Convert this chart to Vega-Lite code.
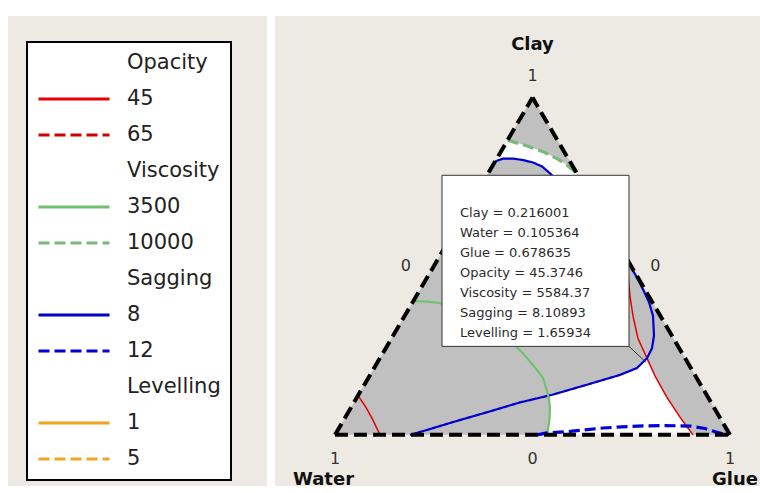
{
  "$schema": "https://vega.github.io/schema/vega-lite/v6.json",
  "width": 760,
  "height": 493,
  "autosize": {"type": "fit", "contains": "padding"},
  "padding": {"left": 8, "top": 12, "right": 0, "bottom": 3},
  "background": "white",
  "config": {
    "view": {"fill": "#EDEAE3", "stroke": null},
    "text": {"font": "DejaVu Sans"},
    "legend": {
      "orient": "none", "legendX": 19, "legendY": 26,
      "symbolType": "stroke", "symbolSize": 5041, "symbolStrokeWidth": 3,
      "labelFont": "DejaVu Sans", "labelFontSize": 21, "labelColor": "#222222",
      "labelOffset": 16, "labelLimit": 300, "padding": 10, "rowPadding": 14, "clipHeight": 22,
      "fillColor": "white", "strokeColor": "black"
    }
  },
  "datasets": {
    "contours": [
      {"key": "45", "seg": "r1", "i": 0, "x": 0.0582, "y": 0.1164},
      {"key": "45", "seg": "r1", "i": 1, "x": 0.0785, "y": 0.0816},
      {"key": "45", "seg": "r1", "i": 2, "x": 0.0962, "y": 0.0437},
      {"key": "45", "seg": "r1", "i": 3, "x": 0.1139, "y": 0},
      {"key": "45", "seg": "r2", "i": 0, "x": 0.7400, "y": 0.5200},
      {"key": "45", "seg": "r2", "i": 1, "x": 0.7418, "y": 0.4752},
      {"key": "45", "seg": "r2", "i": 2, "x": 0.7468, "y": 0.4111},
      {"key": "45", "seg": "r2", "i": 3, "x": 0.7544, "y": 0.3528},
      {"key": "45", "seg": "r2", "i": 4, "x": 0.7671, "y": 0.2857},
      {"key": "45", "seg": "r2", "i": 5, "x": 0.7899, "y": 0.2274},
      {"key": "45", "seg": "r2", "i": 6, "x": 0.8101, "y": 0.1749},
      {"key": "45", "seg": "r2", "i": 7, "x": 0.8405, "y": 0.1108},
      {"key": "45", "seg": "r2", "i": 8, "x": 0.8734, "y": 0.0525},
      {"key": "45", "seg": "r2", "i": 9, "x": 0.9063, "y": 0},
      {"key": "8", "seg": "b1", "i": 0, "x": 0.4051, "y": 0.8105},
      {"key": "8", "seg": "b1", "i": 1, "x": 0.4253, "y": 0.8192},
      {"key": "8", "seg": "b1", "i": 2, "x": 0.4506, "y": 0.8192},
      {"key": "8", "seg": "b1", "i": 3, "x": 0.4759, "y": 0.8149},
      {"key": "8", "seg": "b1", "i": 4, "x": 0.5013, "y": 0.8076},
      {"key": "8", "seg": "b1", "i": 5, "x": 0.5241, "y": 0.7959},
      {"key": "8", "seg": "b1", "i": 6, "x": 0.5443, "y": 0.7755},
      {"key": "8", "seg": "b1", "i": 7, "x": 0.5696, "y": 0.7464},
      {"key": "8", "seg": "b1", "i": 8, "x": 0.5949, "y": 0.7085},
      {"key": "8", "seg": "b1", "i": 9, "x": 0.6456, "y": 0.6501},
      {"key": "8", "seg": "b1", "i": 10, "x": 0.6962, "y": 0.5831},
      {"key": "8", "seg": "b1", "i": 11, "x": 0.7316, "y": 0.5335},
      {"key": "8", "seg": "b1", "i": 12, "x": 0.7468, "y": 0.5015},
      {"key": "8", "seg": "b1", "i": 13, "x": 0.7646, "y": 0.4665},
      {"key": "8", "seg": "b1", "i": 14, "x": 0.7797, "y": 0.4315},
      {"key": "8", "seg": "b1", "i": 15, "x": 0.7949, "y": 0.3936},
      {"key": "8", "seg": "b1", "i": 16, "x": 0.8051, "y": 0.3528},
      {"key": "8", "seg": "b1", "i": 17, "x": 0.8076, "y": 0.2945},
      {"key": "8", "seg": "b1", "i": 18, "x": 0.8025, "y": 0.2566},
      {"key": "8", "seg": "b1", "i": 19, "x": 0.7899, "y": 0.2274},
      {"key": "8", "seg": "b1", "i": 20, "x": 0.7646, "y": 0.1983},
      {"key": "8", "seg": "b1", "i": 21, "x": 0.7215, "y": 0.1778},
      {"key": "8", "seg": "b1", "i": 22, "x": 0.6380, "y": 0.1487},
      {"key": "8", "seg": "b1", "i": 23, "x": 0.5519, "y": 0.1195},
      {"key": "8", "seg": "b1", "i": 24, "x": 0.4684, "y": 0.0962},
      {"key": "8", "seg": "b1", "i": 25, "x": 0.3848, "y": 0.0671},
      {"key": "8", "seg": "b1", "i": 26, "x": 0.2987, "y": 0.0379},
      {"key": "8", "seg": "b1", "i": 27, "x": 0.2329, "y": 0.0146},
      {"key": "8", "seg": "b1", "i": 28, "x": 0.1899, "y": 0},
      {"key": "3500", "seg": "g1", "i": 0, "x": 0.1983, "y": 0.3965},
      {"key": "3500", "seg": "g1", "i": 1, "x": 0.2354, "y": 0.3950},
      {"key": "3500", "seg": "g1", "i": 2, "x": 0.2658, "y": 0.3907},
      {"key": "3500", "seg": "g1", "i": 3, "x": 0.3291, "y": 0.3673},
      {"key": "3500", "seg": "g1", "i": 4, "x": 0.3924, "y": 0.3294},
      {"key": "3500", "seg": "g1", "i": 5, "x": 0.4430, "y": 0.2857},
      {"key": "3500", "seg": "g1", "i": 6, "x": 0.4608, "y": 0.2595},
      {"key": "3500", "seg": "g1", "i": 7, "x": 0.4759, "y": 0.2420},
      {"key": "3500", "seg": "g1", "i": 8, "x": 0.5013, "y": 0.2070},
      {"key": "3500", "seg": "g1", "i": 9, "x": 0.5266, "y": 0.1691},
      {"key": "3500", "seg": "g1", "i": 10, "x": 0.5392, "y": 0.1195},
      {"key": "3500", "seg": "g1", "i": 11, "x": 0.5443, "y": 0.0816},
      {"key": "3500", "seg": "g1", "i": 12, "x": 0.5430, "y": 0.0437},
      {"key": "3500", "seg": "g1", "i": 13, "x": 0.5367, "y": 0},
      {"key": "10000", "seg": "g2", "i": 0, "x": 0.4373, "y": 0.8746},
      {"key": "10000", "seg": "g2", "i": 1, "x": 0.4506, "y": 0.8688},
      {"key": "10000", "seg": "g2", "i": 2, "x": 0.4886, "y": 0.8557},
      {"key": "10000", "seg": "g2", "i": 3, "x": 0.5266, "y": 0.8397},
      {"key": "10000", "seg": "g2", "i": 4, "x": 0.5620, "y": 0.8192},
      {"key": "10000", "seg": "g2", "i": 5, "x": 0.5873, "y": 0.8003},
      {"key": "10000", "seg": "g2", "i": 6, "x": 0.6122, "y": 0.7755},
      {"key": "12", "seg": "b2", "i": 0, "x": 0.5114, "y": 0},
      {"key": "12", "seg": "b2", "i": 1, "x": 0.5367, "y": 0.0058},
      {"key": "12", "seg": "b2", "i": 2, "x": 0.5949, "y": 0.0102},
      {"key": "12", "seg": "b2", "i": 3, "x": 0.6785, "y": 0.0204},
      {"key": "12", "seg": "b2", "i": 4, "x": 0.7646, "y": 0.0262},
      {"key": "12", "seg": "b2", "i": 5, "x": 0.8354, "y": 0.0277},
      {"key": "12", "seg": "b2", "i": 6, "x": 0.8987, "y": 0.0262},
      {"key": "12", "seg": "b2", "i": 7, "x": 0.9367, "y": 0.0190},
      {"key": "12", "seg": "b2", "i": 8, "x": 0.9646, "y": 0.0087},
      {"key": "12", "seg": "b2", "i": 9, "x": 0.9899, "y": 0}
    ],
    "whiteTop": [
      {"x": 0.4051, "top": 0.8105, "bot": 0.8105},
      {"x": 0.4228, "top": 0.8456, "bot": 0.8178},
      {"x": 0.4373, "top": 0.8746, "bot": 0.8192},
      {"x": 0.4506, "top": 0.8688, "bot": 0.8192},
      {"x": 0.4886, "top": 0.8557, "bot": 0.8111},
      {"x": 0.5266, "top": 0.8397, "bot": 0.7945},
      {"x": 0.5620, "top": 0.8192, "bot": 0.7551},
      {"x": 0.5873, "top": 0.8003, "bot": 0.7000},
      {"x": 0.6122, "top": 0.7755, "bot": 0.7000}
    ],
    "whiteBottom": [
      {"x": 0.5367, "top": 0},
      {"x": 0.5418, "top": 0.0408},
      {"x": 0.5443, "top": 0.0816},
      {"x": 0.5451, "top": 0.1160},
      {"x": 0.5519, "top": 0.1195},
      {"x": 0.5949, "top": 0.1341},
      {"x": 0.6380, "top": 0.1487},
      {"x": 0.6785, "top": 0.1627},
      {"x": 0.7215, "top": 0.1778},
      {"x": 0.7646, "top": 0.1983},
      {"x": 0.7886, "top": 0.2230},
      {"x": 0.8101, "top": 0.1749},
      {"x": 0.8405, "top": 0.1108},
      {"x": 0.8734, "top": 0.0525},
      {"x": 0.9063, "top": 0}
    ],
    "triangle": [
      {"x": 0, "y": 0},
      {"x": 0.5, "y": 1},
      {"x": 1, "y": 0}
    ],
    "edges": [
      {"x": 0, "y": 0, "x2": 0.5, "y2": 1},
      {"x": 1, "y": 0, "x2": 0.5, "y2": 1},
      {"x": 0, "y": 0, "x2": 1, "y2": 0}
    ],
    "point": [
      {"x": 0.7866355, "clay": 0.216001, "water": 0.105364, "glue": 0.678635, "opacity": 45.3746, "viscosity": 5584.37, "sagging": 8.10893, "levelling": 1.65934}
    ]
  },
  "layer": [
    {
      "data": {"name": "triangle"},
      "mark": {"type": "area", "fill": "#C0C0C0", "opacity": 1},
      "encoding": {
        "x": {"field": "x", "type": "quantitative", "scale": {"domain": [-0.827848, 1.075949], "nice": false, "zero": false}, "axis": null},
        "y": {"field": "y", "type": "quantitative", "scale": {"domain": [-0.151603, 1.241983], "nice": false, "zero": false}, "axis": null},
        "y2": {"datum": 0}
      }
    },
    {
      "data": {"name": "point"},
      "mark": {"type": "rule", "color": "white", "strokeWidth": 8},
      "encoding": {"x": {"datum": -0.16203, "type": "quantitative"}}
    },
    {
      "data": {"name": "whiteTop"},
      "mark": {"type": "area", "fill": "white", "opacity": 1},
      "encoding": {
        "x": {"field": "x", "type": "quantitative"},
        "y": {"field": "top", "type": "quantitative"},
        "y2": {"field": "bot"}
      }
    },
    {
      "data": {"name": "whiteBottom"},
      "mark": {"type": "area", "fill": "white", "opacity": 1},
      "encoding": {
        "x": {"field": "x", "type": "quantitative"},
        "y": {"field": "top", "type": "quantitative"},
        "y2": {"datum": 0}
      }
    },
    {
      "data": {"name": "contours"},
      "transform": [{"filter": {"field": "key", "oneOf": ["45"]}}],
      "mark": {"type": "line", "strokeWidth": 1.5, "strokeCap": "butt", "strokeJoin": "round"},
      "encoding": {
        "x": {"field": "x", "type": "quantitative"},
        "y": {"field": "y", "type": "quantitative"},
        "detail": {"field": "seg"},
        "order": {"field": "i", "type": "quantitative"},
        "stroke": {
          "field": "key", "type": "nominal", "title": null,
          "scale": {
            "domain": ["Opacity", "45", "65", "Viscosity", "3500", "10000", "Sagging", "8", "12", "Levelling", "1", "5"],
            "range": ["transparent", "#E60000", "#D40000", "transparent", "#70C070", "#78BB78", "transparent", "#0000CC", "#0000D8", "transparent", "#F2A21E", "#F0A52A"]
          },
          "legend": {"encode": {"legend": {"update": {"strokeWidth": {"value": 2}}}}}
        },
        "strokeDash": {
          "field": "key", "type": "nominal", "title": null,
          "scale": {
            "domain": ["Opacity", "45", "65", "Viscosity", "3500", "10000", "Sagging", "8", "12", "Levelling", "1", "5"],
            "range": [[1, 0], [1, 0], [11, 5], [1, 0], [1, 0], [11, 5], [1, 0], [1, 0], [11, 5], [1, 0], [1, 0], [11, 5]]
          }
        }
      }
    },
    {
      "data": {"name": "contours"},
      "transform": [{"filter": {"field": "key", "oneOf": ["3500", "8", "1"]}}],
      "mark": {"type": "line", "strokeWidth": 2.2, "strokeCap": "butt", "strokeJoin": "round"},
      "encoding": {
        "x": {"field": "x", "type": "quantitative"},
        "y": {"field": "y", "type": "quantitative"},
        "detail": {"field": "seg"},
        "order": {"field": "i", "type": "quantitative"},
        "stroke": {"field": "key", "type": "nominal", "title": null},
        "strokeDash": {"field": "key", "type": "nominal", "title": null}
      }
    },
    {
      "data": {"name": "contours"},
      "transform": [{"filter": {"field": "key", "oneOf": ["65", "10000", "12", "5"]}}],
      "mark": {"type": "line", "strokeWidth": 3.2, "strokeCap": "butt", "strokeJoin": "round"},
      "encoding": {
        "x": {"field": "x", "type": "quantitative"},
        "y": {"field": "y", "type": "quantitative"},
        "detail": {"field": "seg"},
        "order": {"field": "i", "type": "quantitative"},
        "stroke": {"field": "key", "type": "nominal", "title": null},
        "strokeDash": {"field": "key", "type": "nominal", "title": null}
      }
    },
    {
      "data": {"name": "edges"},
      "mark": {"type": "rule", "color": "black", "strokeWidth": 4, "strokeDash": [13, 6], "strokeCap": "butt"},
      "encoding": {
        "x": {"field": "x", "type": "quantitative"},
        "y": {"field": "y", "type": "quantitative"},
        "x2": {"field": "x2"},
        "y2": {"field": "y2"}
      }
    },
    {
      "data": {"name": "point"},
      "mark": {"type": "rule", "color": "#333333", "strokeWidth": 1},
      "encoding": {
        "x": {"field": "x", "type": "quantitative"},
        "y": {"field": "clay", "type": "quantitative"},
        "x2": {"datum": 0.7443},
        "y2": {"datum": 0.26239}
      }
    },
    {
      "data": {"name": "point"},
      "mark": {"type": "rect", "fill": "white", "stroke": "#333333", "strokeWidth": 1},
      "encoding": {
        "x": {"datum": 0.27089, "type": "quantitative"},
        "x2": {"datum": 0.7443},
        "y": {"datum": 0.76968, "type": "quantitative"},
        "y2": {"datum": 0.26239}
      }
    },
    {
      "data": {"name": "point"},
      "mark": {
        "type": "text", "align": "left", "baseline": "top", "fontSize": 13, "lineHeight": 20, "color": "#2B2B2B",
        "text": ["Clay = 0.216001", "Water = 0.105364", "Glue = 0.678635", "Opacity = 45.3746", "Viscosity = 5584.37", "Sagging = 8.10893", "Levelling = 1.65934"]
      },
      "encoding": {
        "x": {"datum": 0.31646, "type": "quantitative"},
        "y": {"datum": 0.6764, "type": "quantitative"}
      }
    },
    {
      "data": {"values": [{"x": 0.5, "y": 1, "label": "Clay"}]},
      "mark": {"type": "text", "fontSize": 18, "fontWeight": "bold", "color": "#111111", "dy": -53, "baseline": "middle"},
      "encoding": {"x": {"field": "x", "type": "quantitative"}, "y": {"field": "y", "type": "quantitative"}, "text": {"field": "label"}}
    },
    {
      "data": {"values": [{"x": 0.5, "y": 1, "label": "1"}]},
      "mark": {"type": "text", "fontSize": 16, "color": "#333333", "dy": -22, "baseline": "middle"},
      "encoding": {"x": {"field": "x", "type": "quantitative"}, "y": {"field": "y", "type": "quantitative"}, "text": {"field": "label"}}
    },
    {
      "data": {"values": [{"x": 0, "y": 0, "label": "1"}, {"x": 0.5, "y": 0, "label": "0"}, {"x": 1, "y": 0, "label": "1"}]},
      "mark": {"type": "text", "fontSize": 16, "color": "#333333", "dy": 24, "baseline": "middle"},
      "encoding": {"x": {"field": "x", "type": "quantitative"}, "y": {"field": "y", "type": "quantitative"}, "text": {"field": "label"}}
    },
    {
      "data": {"values": [{"x": 0.25, "y": 0.5, "label": "0"}]},
      "mark": {"type": "text", "fontSize": 16, "color": "#333333", "dx": -28, "baseline": "middle"},
      "encoding": {"x": {"field": "x", "type": "quantitative"}, "y": {"field": "y", "type": "quantitative"}, "text": {"field": "label"}}
    },
    {
      "data": {"values": [{"x": 0.75, "y": 0.5, "label": "0"}]},
      "mark": {"type": "text", "fontSize": 16, "color": "#333333", "dx": 24, "baseline": "middle"},
      "encoding": {"x": {"field": "x", "type": "quantitative"}, "y": {"field": "y", "type": "quantitative"}, "text": {"field": "label"}}
    },
    {
      "data": {"values": [{"x": 0, "y": 0, "label": "Water"}]},
      "mark": {"type": "text", "fontSize": 18, "fontWeight": "bold", "color": "#111111", "align": "left", "dx": -42, "dy": 45, "baseline": "middle"},
      "encoding": {"x": {"field": "x", "type": "quantitative"}, "y": {"field": "y", "type": "quantitative"}, "text": {"field": "label"}}
    },
    {
      "data": {"values": [{"x": 1, "y": 0, "label": "Glue"}]},
      "mark": {"type": "text", "fontSize": 18, "fontWeight": "bold", "color": "#111111", "align": "right", "dx": 28, "dy": 45, "baseline": "middle"},
      "encoding": {"x": {"field": "x", "type": "quantitative"}, "y": {"field": "y", "type": "quantitative"}, "text": {"field": "label"}}
    }
  ]
}
